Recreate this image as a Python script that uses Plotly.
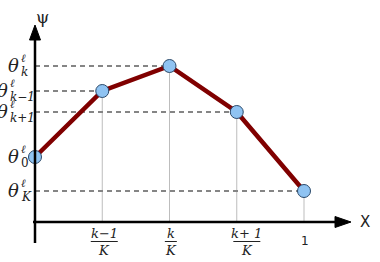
import plotly.graph_objects as go

# ---- data ----
knots = [0, 1, 2, 3, 4]                 # knot index (x = knot / K)
psi = [65, 131, 156, 110, 31]           # psi values at the knots
theta_subs = ["0", "k\u22121", "k", "k+1", "K"]   # labels of theta levels
tick_nums = ["k\u22121", "k", "k+ 1", "1"]        # x tick numerators
tick_dens = ["K", "K", "K", ""]                   # x tick denominators

W, H = 380, 262
X0, SX = 35, 67.25      # pixel of x=0, pixels per knot
Y0 = 222                # pixel of psi=0

def dx(px):
    return (px - X0) / SX

def dy(py):
    return Y0 - py

fig = go.Figure()

# dashed guides from y axis to points (skip first point on axis)
for k, v in zip(knots[1:], psi[1:]):
    fig.add_shape(type="line", x0=0, x1=k, y0=v, y1=v,
                  line=dict(color="#858585", width=2.2, dash="5px,4px"), layer="below")
    fig.add_shape(type="line", x0=k, x1=k, y0=0, y1=v,
                  line=dict(color="#bdbdbd", width=1), layer="below")

# axes
fig.add_shape(type="line", x0=0, x1=0, y0=dy(243), y1=dy(36),
              line=dict(color="black", width=2.5))
fig.add_shape(type="line", x0=dx(33), x1=dx(338), y0=0, y1=0,
              line=dict(color="black", width=2.5))
fig.add_shape(type="path",
              path=f"M {dx(35)},{dy(25)} L {dx(29.5)},{dy(40)} L {dx(40.5)},{dy(40)} Z",
              fillcolor="black", line=dict(color="black", width=1))
fig.add_shape(type="path",
              path=f"M {dx(351)},{dy(222)} L {dx(335)},{dy(216.5)} L {dx(335)},{dy(227.5)} Z",
              fillcolor="black", line=dict(color="black", width=1))

# main line
fig.add_trace(go.Scatter(x=knots, y=psi, mode="lines+markers",
                         line=dict(color="#800000", width=4.5),
                         marker=dict(size=13, color="#8fc3f2",
                                     line=dict(color="#2b4a6b", width=1)),
                         hoverinfo="skip"))

serif = "DejaVu Serif"
txt = "#222"
ann = []
# theta labels at left
for sub, v in zip(theta_subs, psi):
    long_sub = len(sub) > 1
    th_right = 10 if long_sub else 21     # pixel right edge of theta
    cy = Y0 - v - 1                        # pixel centre of theta
    ann.append(dict(x=dx(th_right), y=dy(cy), xref="x", yref="y",
                    text="<i>\u03b8</i>", showarrow=False, xanchor="right",
                    yanchor="middle", font=dict(family=serif, size=18, color=txt)))
    ann.append(dict(x=dx(th_right - 2), y=dy(cy - 7), xref="x", yref="y",
                    text="<i>\u2113</i>", showarrow=False, xanchor="left",
                    yanchor="middle", font=dict(family=serif, size=11, color=txt)))
    ann.append(dict(x=dx(th_right - 2), y=dy(cy + 7), xref="x", yref="y",
                    text=(sub if sub == "0" else f"<i>{sub}</i>"), showarrow=False,
                    xanchor="left", yanchor="middle",
                    font=dict(family=serif, size=12, color=txt)))

# x tick fractions
tick_x = knots[1:]
shifts = [0.03, 0.02, 0.15, 0.02]
for k, num, den, s in zip(tick_x, tick_nums, tick_dens, shifts):
    if den:
        ann.append(dict(x=k + s, y=dy(233), xref="x", yref="y", text=f"<i>{num}</i>",
                        showarrow=False, font=dict(family=serif, size=13, color=txt)))
        ann.append(dict(x=k + s, y=dy(250), xref="x", yref="y", text=f"<i>{den}</i>",
                        showarrow=False, font=dict(family=serif, size=13, color=txt)))
        w = (27 if len(num) > 1 else 12) / SX / 2
        fig.add_shape(type="line", x0=k + s - w, x1=k + s + w, y0=dy(241.5), y1=dy(241.5),
                      line=dict(color=txt, width=1))
    else:
        ann.append(dict(x=k + s, y=dy(241), xref="x", yref="y", text=num,
                        showarrow=False, font=dict(family="DejaVu Sans", size=12, color=txt)))

# axis names
ann.append(dict(x=dx(42), y=dy(17), xref="x", yref="y", text="\u03c8",
                showarrow=False, font=dict(family="DejaVu Serif", size=17, color=txt)))
ann.append(dict(x=dx(365), y=dy(222), xref="x", yref="y", text="X",
                showarrow=False, font=dict(family="DejaVu Sans", size=15, color=txt)))

fig.update_layout(
    width=W, height=H, margin=dict(l=0, r=0, t=0, b=0),
    plot_bgcolor="white", paper_bgcolor="white", showlegend=False,
    xaxis=dict(range=[dx(0), dx(W)], visible=False, fixedrange=True),
    yaxis=dict(range=[dy(H), dy(0)], visible=False, fixedrange=True),
    annotations=ann,
)
fig.write_html("out.html")
